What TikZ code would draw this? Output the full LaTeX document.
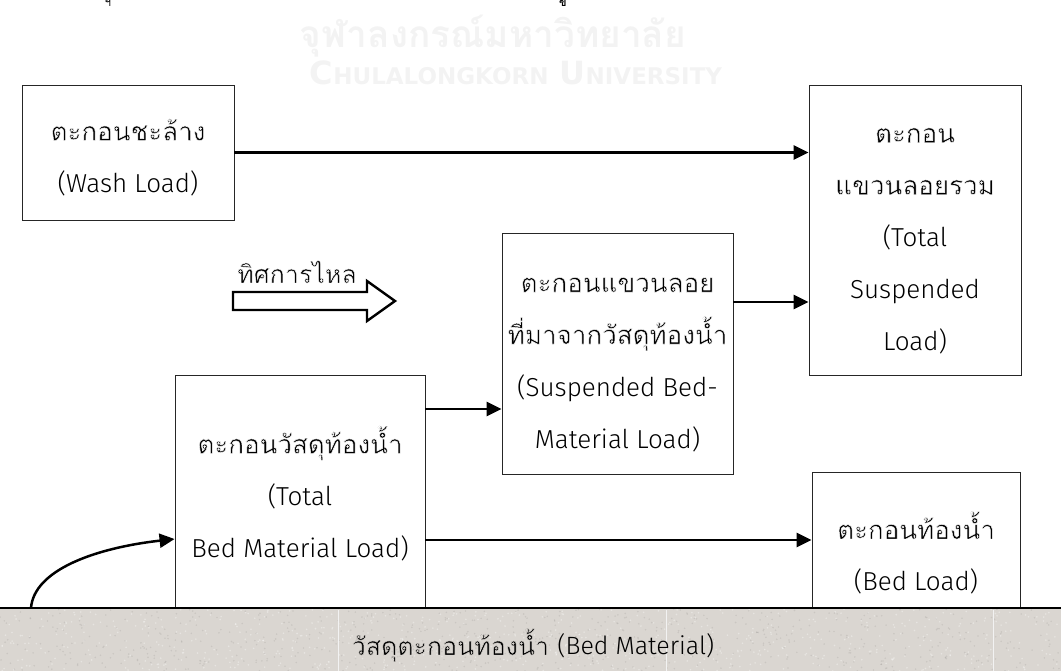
\documentclass[tikz,border=0pt]{standalone}
\usepackage{fontspec}
\usetikzlibrary{arrows.meta}
\newfontfamily\thai[Script=Thai]{Loma}
\newfontfamily\lat{Fira Sans Light}
\newfontfamily\wmlat{DejaVu Sans}
\newcommand\thn[2][1 1 1]{\special{pdf:literal direct 2 Tr 0.45 w #1 RG}#2\special{pdf:literal direct 0 Tr 0 G}}
\definecolor{groundfill}{RGB}{218,214,209}
\definecolor{wmark}{RGB}{243,243,243}
\tikzset{
  box/.style={draw=black!85, line width=0.9pt, fill=white, inner sep=0pt},
  txt/.style={inner sep=0pt, align=center, font=\thai\fontsize{26}{52}\selectfont},
  conn/.style={line width=2.5pt, -{Triangle[length=15pt,width=14pt]}},
  lbl/.style={inner sep=0pt, font=\thai\fontsize{25}{30}\selectfont},
}
\begin{document}
\begin{tikzpicture}[x=1pt,y=-1pt]
\useasboundingbox (0,0) rectangle (1061,671);
% watermark and page fragments
\node[inner sep=0pt, text=wmark, font=\thai\bfseries\fontsize{37}{37}\selectfont] (wm1) at (493,36) {จุฬาลงกรณ์มหาวิทยาลัย};
\node[inner sep=0pt, text=wmark, font=\wmlat\bfseries\fontsize{32}{32}\selectfont, anchor=base] (wm2) at (516,85) {C{\fontsize{23}{23}\selectfont HULALONGKORN} U{\fontsize{23}{23}\selectfont NIVERSITY}};
\node[inner sep=0pt, font=\thai\fontsize{11}{11}\selectfont, anchor=north] (frag1) at (108,0) {ฯ};
\node[inner sep=0pt, font=\thai\bfseries\fontsize{11}{11}\selectfont, anchor=north] (frag2) at (563,0) {ข};
% ground
\fill[groundfill] (0,608) rectangle (1061,671);
\pgfmathsetseed{7}
\foreach \i in {1,...,700} {
  \pgfmathsetmacro\px{rnd*1061}\pgfmathsetmacro\py{609+rnd*62}
  \fill[black, opacity=0.07] (\px,\py) circle (0.9);
}
\foreach \i in {1,...,700} {
  \pgfmathsetmacro\px{rnd*1061}\pgfmathsetmacro\py{609+rnd*62}
  \fill[white, opacity=0.35] (\px,\py) circle (0.9);
}
\foreach \sx in {338,666,993} \draw[black!5, line width=0.6pt] (\sx,610) -- (\sx,671);
\node[lbl] (ground) at (533,645) {\thn[0.855 0.839 0.82]{วัสดุตะกอนท้องน้ำ} {\lat (Bed Material)}};
% boxes
\node[box, minimum width=212pt, minimum height=135pt] (wash) at (128,152.5) {};
\node[box, minimum width=212pt, minimum height=290pt] (ts) at (915,230) {};
\node[box, minimum width=231pt, minimum height=241pt] (sbm) at (617.5,353.5) {};
\node[box, minimum width=250pt, minimum height=233pt] (tbm) at (300,491.5) {};
\node[box, minimum width=208pt, minimum height=136pt] (bl) at (916,540) {};
\node[txt] (washT) at ([yshift=-5pt]wash.center) {\thn{ตะกอนชะล้าง}\\{\lat (Wash Load)}};
\node[txt] (tsT) at ([yshift=-11pt]ts.center) {\thn{ตะกอน}\\\thn{แขวนลอยรวม}\\{\lat (Total}\\{\lat Suspended}\\{\lat Load)}};
\node[txt] (sbmT) at ([yshift=-11pt]sbm.center) {\thn{ตะกอนแขวนลอย}\\\thn{ที่มาจากวัสดุท้องน้ำ}\\{\lat (Suspended Bed-}\\{\lat Material Load)}};
\node[txt] (tbmT) at ([yshift=-2pt]tbm.center) {\thn{ตะกอนวัสดุท้องน้ำ}\\{\lat (Total}\\{\lat Bed Material Load)}};
\node[txt] (blT) at ([yshift=-13pt]bl.center) {\thn{ตะกอนท้องน้ำ}\\{\lat (Bed Load)}};
\draw[black, line width=2.2pt] (0,608) -- (1061,608);
% flow direction
\node[lbl, anchor=base] (flowlbl) at (297,283) {\thn{ทิศการไหล}};
\draw[line width=2.4pt, line join=miter] (233,292) -- (367,292) -- (367,281) -- (395,301) -- (367,321) -- (367,310) -- (233,310) -- cycle;
% connectors
\draw[conn] (wash.east) -- (ts.west |- wash.east);
\draw[conn] (sbm.east |- 0,302) -- (ts.west |- 0,302);
\draw[conn] (tbm.east |- 0,409) -- (sbm.west |- 0,409);
\draw[conn] (tbm.east |- bl.west) -- (bl.west);
\coordinate (gs) at (31,608);
\draw[conn] (gs) .. controls (34,570) and (95,548) .. (tbm.west |- 0,539);
\end{tikzpicture}
\end{document}
